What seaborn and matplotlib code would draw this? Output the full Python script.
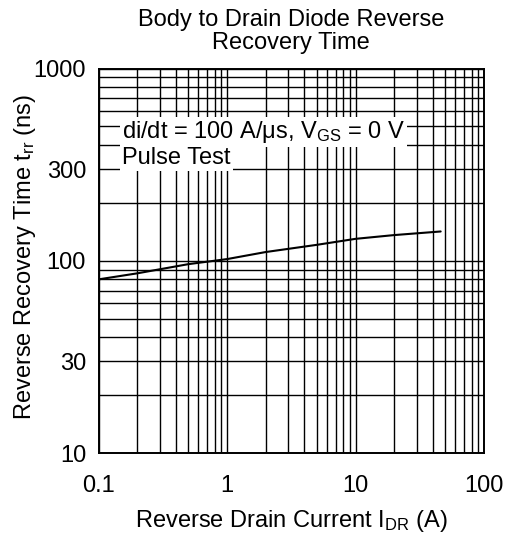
import matplotlib
matplotlib.use("Agg")
import matplotlib.pyplot as plt
import seaborn as sns
import pandas as pd
import numpy as np
from matplotlib.ticker import FixedLocator, FixedFormatter, LogLocator, NullFormatter

# ---- data ----
current_A = [0.1, 0.2, 0.5, 1, 2, 5, 10, 20, 46]
trr_ns = [80, 86, 96, 102, 111, 121, 130, 136, 142]

x_ticks = [0.1, 1, 10, 100]
x_tick_labels = ["0.1", "1", "10", "100"]
y_ticks = [10, 30, 100, 300, 1000]
y_tick_labels = ["10", "30", "100", "300", "1000"]

title = "Body to Drain Diode Reverse\nRecovery Time"
xlabel = "Reverse Drain Current I$_{DR}$ (A)"
ylabel = "Reverse Recovery Time t$_{rr}$ (ns)"
note1 = "di/dt = 100 A/\u03bcs, V$_{GS}$ = 0 V"
note2 = "Pulse Test"

df = pd.DataFrame({"I": current_A, "trr": trr_ns})

sns.set_theme(style="white")
plt.rcParams["font.family"] = ["Liberation Sans", "DejaVu Sans"]
plt.rcParams["mathtext.default"] = "regular"

FS = 17

fig = plt.figure(figsize=(5.07, 5.37), dpi=100)
ax = fig.add_axes([98.5 / 507, 1 - 453 / 537, (484 - 98.5) / 507, (453 - 68.5) / 537])

ax.set_xscale("log")
ax.set_yscale("log")
ax.set_xlim(0.1, 100)
ax.set_ylim(10, 1000)

# grid (major + minor), black
ax.xaxis.set_minor_locator(LogLocator(base=10, subs=np.arange(2, 10)))
ax.yaxis.set_minor_locator(LogLocator(base=10, subs=np.arange(2, 10)))
ax.xaxis.set_minor_formatter(NullFormatter())
ax.yaxis.set_minor_formatter(NullFormatter())
ax.grid(True, which="both", color="black", linewidth=1.0)
ax.set_axisbelow(True)

sns.lineplot(data=df, x="I", y="trr", ax=ax, color="black", linewidth=1.5, zorder=3)

ax.xaxis.set_major_locator(FixedLocator(x_ticks))
ax.xaxis.set_major_formatter(FixedFormatter(x_tick_labels))
ax.yaxis.set_major_locator(FixedLocator(y_ticks))
ax.yaxis.set_major_formatter(FixedFormatter(y_tick_labels))
ax.tick_params(axis="both", which="both", length=0, labelsize=FS, colors="black")
ax.tick_params(axis="y", pad=9)
ax.tick_params(axis="x", pad=16)

for s in ax.spines.values():
    s.set_color("black")
    s.set_linewidth(1.4)

ax.set_title(title, fontsize=FS, color="black", pad=14, linespacing=1.05)
ax.set_xlabel(xlabel, fontsize=FS, color="black")
ax.set_ylabel(ylabel, fontsize=FS, color="black")
ax.xaxis.set_label_coords(0.5, -0.143)
ax.yaxis.set_label_coords(-0.158, 0.51)

bbox = dict(facecolor="white", edgecolor="none", pad=1.5)
ax.text(0.061, 0.835, note1, transform=ax.transAxes, fontsize=FS, va="center", ha="left",
        bbox=bbox, zorder=4, color="black")
ax.text(0.061, 0.768, note2, transform=ax.transAxes, fontsize=FS, va="center", ha="left",
        bbox=bbox, zorder=4, color="black")

fig.savefig("out.png", dpi=100, facecolor="white")
